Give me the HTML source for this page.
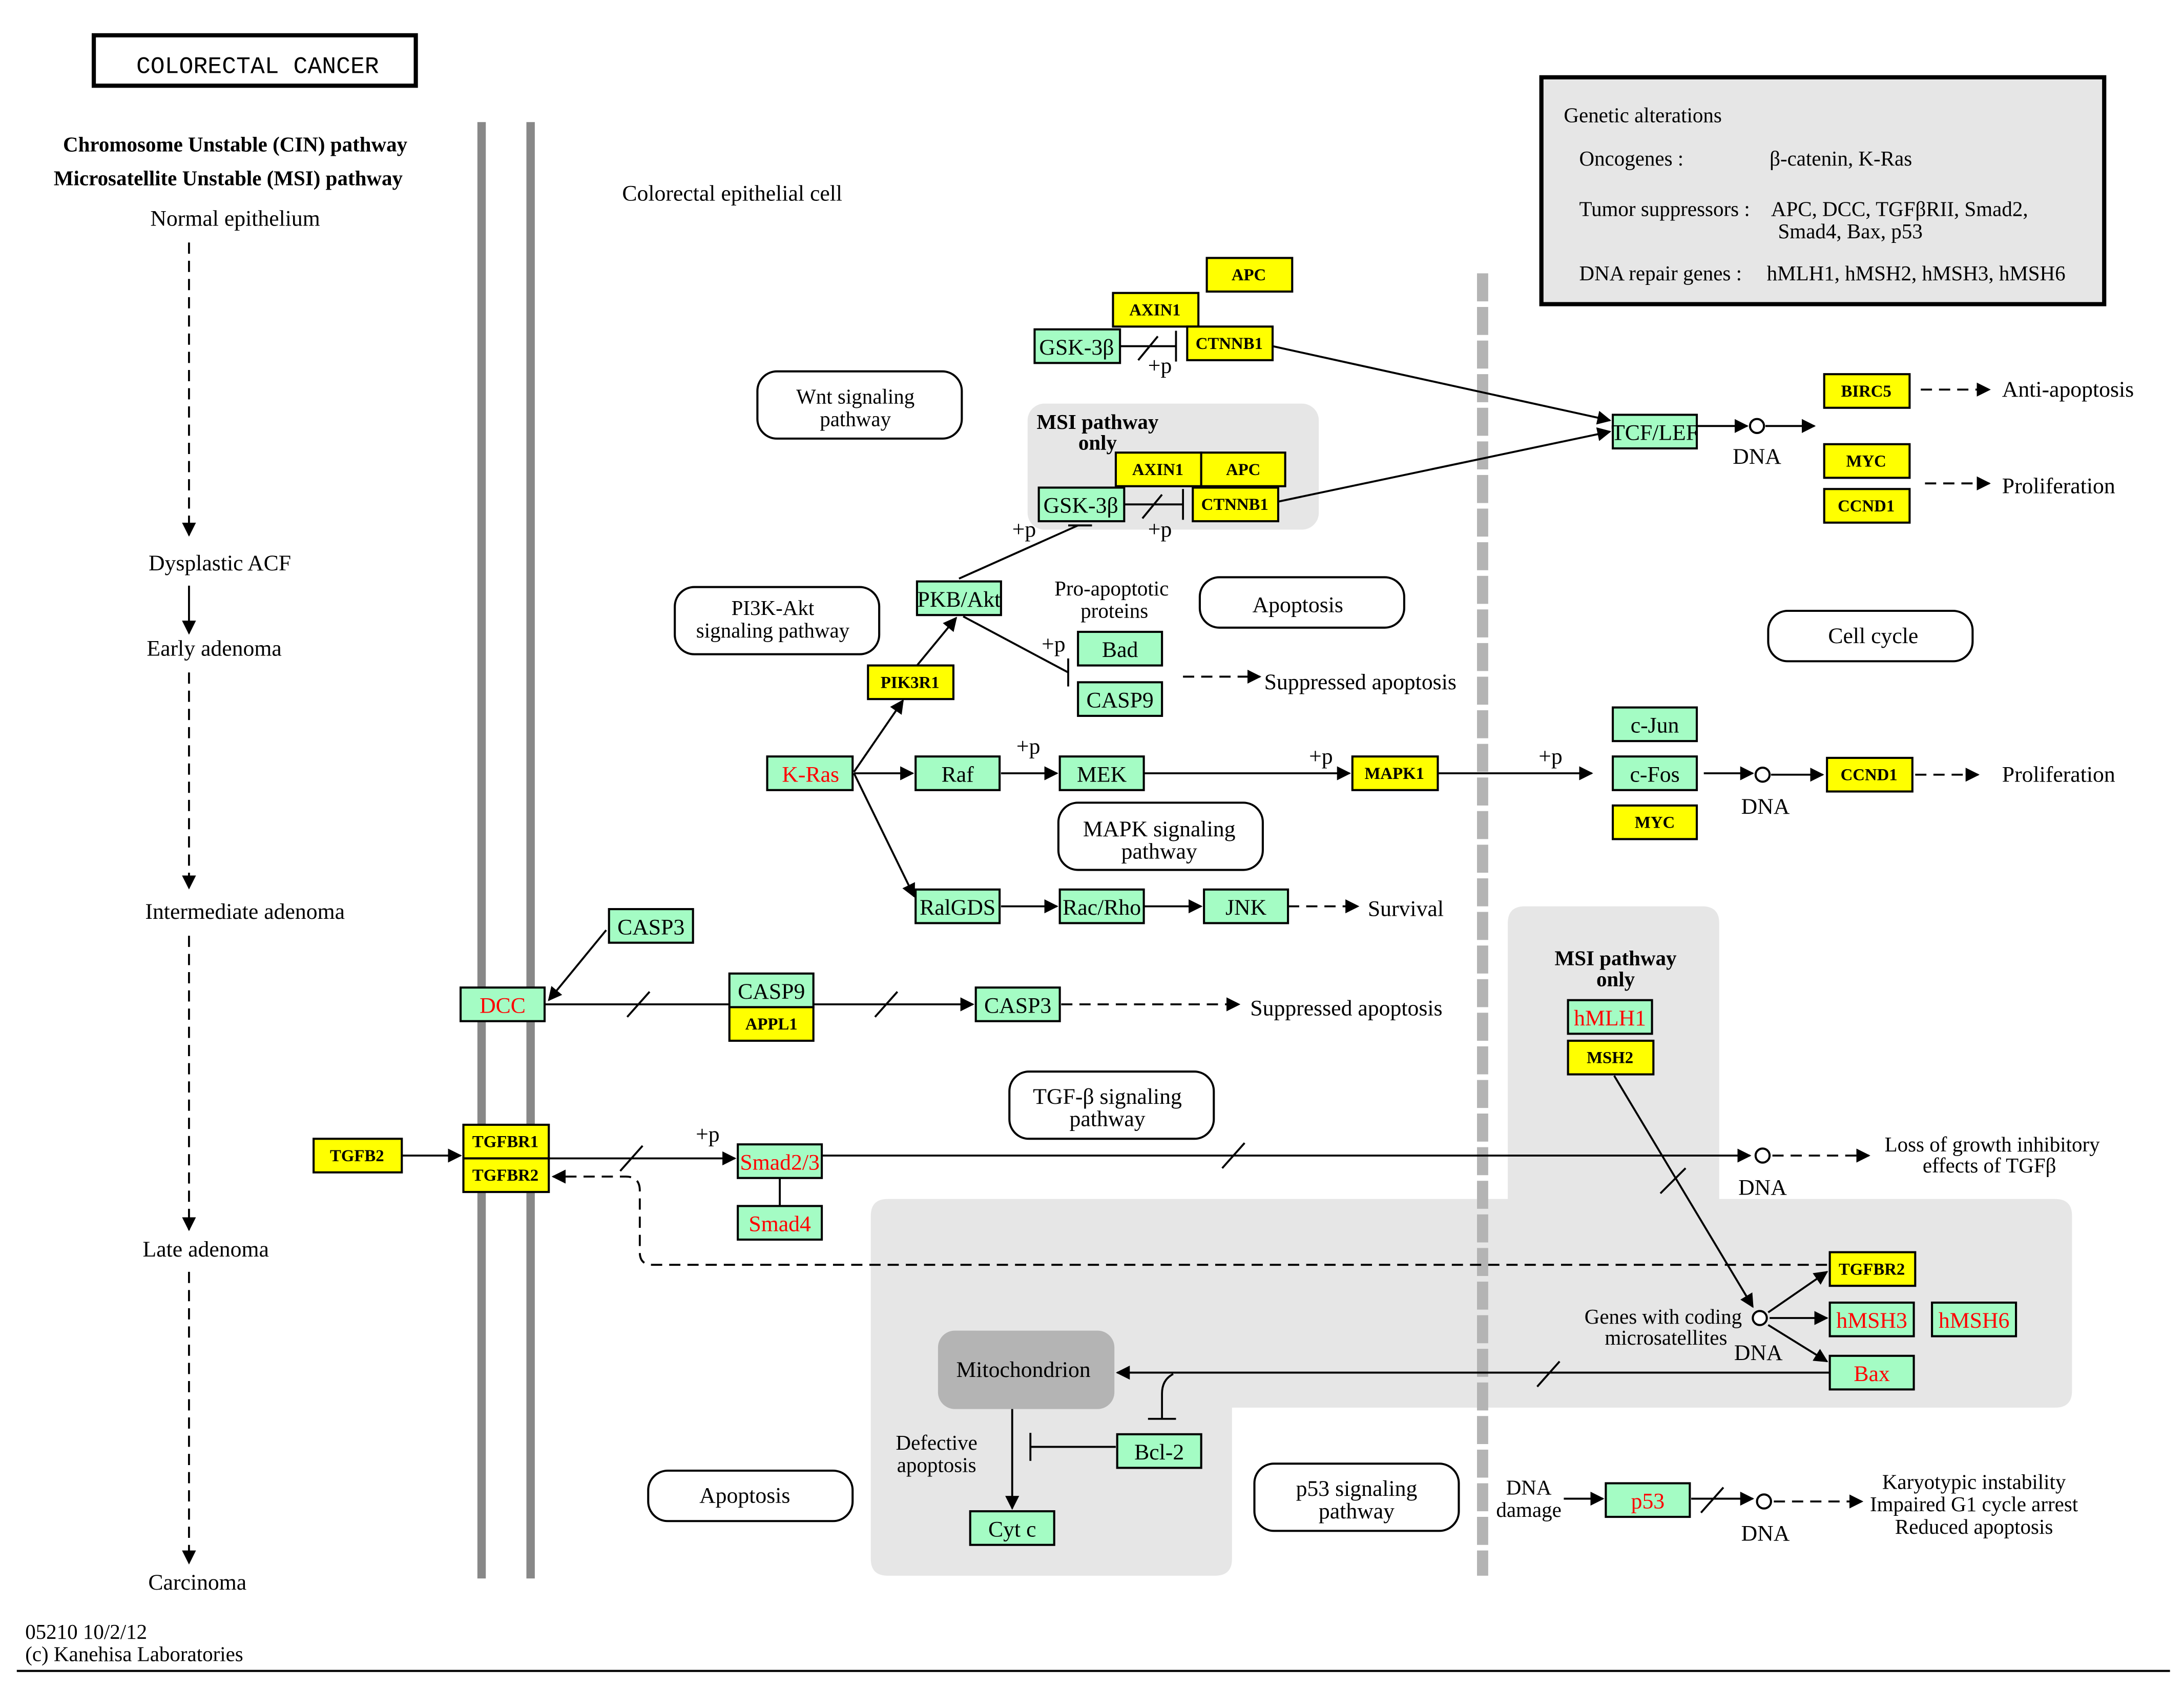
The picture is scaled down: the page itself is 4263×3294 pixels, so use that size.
<!DOCTYPE html>
<html><head><meta charset="utf-8"><style>
html,body{margin:0;padding:0;background:#fff}
svg{display:block}
text{font-family:"Liberation Serif",serif;font-size:16px;fill:#000}
.g{fill:#a4fcc4;stroke:#000;stroke-width:1.5}
.y{fill:#ffff00;stroke:#000;stroke-width:1.5}
.b{font-weight:bold;font-size:12px}
.r{fill:#f00}
.pw{fill:#fff;stroke:#000;stroke-width:1.5}
.l{stroke:#000;stroke-width:1.4;fill:none}
.d{stroke:#000;stroke-width:1.4;fill:none;stroke-dasharray:8,5}
</style></head><body>
<svg width="4263" height="3294" viewBox="0 0 1560 1205" xmlns="http://www.w3.org/2000/svg">
<defs>
<marker id="a" markerWidth="10" markerHeight="10" refX="9" refY="5" orient="auto" markerUnits="userSpaceOnUse"><path d="M0,0 L10,5 L0,10 z" fill="#000"/></marker>
</defs>
<rect width="1560" height="1205" fill="#fff"/>
<!-- gray regions -->
<rect x="734" y="288" width="208" height="90" rx="12" fill="#e6e6e6"/>
<path d="M1089,647 H1216 Q1228,647 1228,659 V856 H1468 Q1480,856 1480,868 V993 Q1480,1005 1468,1005 H880 V1113 Q880,1125 868,1125 H634 Q622,1125 622,1113 V868 Q622,856 634,856 H1077 V659 Q1077,647 1089,647 Z" fill="#e6e6e6"/>
<!-- membranes -->
<line x1="344" y1="87" x2="344" y2="1127" stroke="#888" stroke-width="6"/>
<line x1="379" y1="87" x2="379" y2="1127" stroke="#888" stroke-width="6"/>
<line x1="1059" y1="195" x2="1059" y2="1125" stroke="#b4b4b4" stroke-width="8" stroke-dasharray="20,4"/>
<!-- title -->
<rect x="67" y="25" width="230" height="36" fill="#fff" stroke="#000" stroke-width="3"/>
<text x="184" y="52" text-anchor="middle" font-family="Liberation Mono" style="font-family:'Liberation Mono',monospace;font-size:17px">COLORECTAL CANCER</text>
<text x="168" y="108" text-anchor="middle" font-weight="bold" style="font-size:15px">Chromosome Unstable (CIN) pathway</text>
<text x="163" y="132" text-anchor="middle" font-weight="bold" style="font-size:15px">Microsatellite Unstable (MSI) pathway</text>
<text x="168" y="161" text-anchor="middle">Normal epithelium</text>
<text x="157" y="407" text-anchor="middle">Dysplastic ACF</text>
<text x="153" y="468" text-anchor="middle">Early adenoma</text>
<text x="175" y="656" text-anchor="middle">Intermediate adenoma</text>
<text x="147" y="897" text-anchor="middle">Late adenoma</text>
<text x="141" y="1135" text-anchor="middle">Carcinoma</text>
<line class="d" x1="135" y1="173" x2="135" y2="382" marker-end="url(#a)"/>
<line class="l" x1="135" y1="418" x2="135" y2="452" marker-end="url(#a)"/>
<line class="d" x1="135" y1="480" x2="135" y2="634" marker-end="url(#a)"/>
<line class="d" x1="135" y1="668" x2="135" y2="878" marker-end="url(#a)"/>
<line class="d" x1="135" y1="908" x2="135" y2="1116" marker-end="url(#a)"/>
<text x="18" y="1170" style="font-size:15px">05210 10/2/12</text>
<text x="18" y="1186" style="font-size:15px">(c) Kanehisa Laboratories</text>
<line x1="12" y1="1193" x2="1550" y2="1193" stroke="#000" stroke-width="1.5"/>
<text x="523" y="143" text-anchor="middle">Colorectal epithelial cell</text>
<!-- legend -->
<rect x="1101" y="55" width="402" height="162" fill="#e6e6e6" stroke="#000" stroke-width="3"/>
<text x="1117" y="87" style="font-size:15px">Genetic alterations</text>
<text x="1128" y="118" style="font-size:15px">Oncogenes :</text>
<text x="1264" y="118" style="font-size:15px">β-catenin, K-Ras</text>
<text x="1128" y="154" style="font-size:15px">Tumor suppressors :</text>
<text x="1265" y="154" style="font-size:15px">APC, DCC, TGFβRII, Smad2,</text>
<text x="1270" y="170" style="font-size:15px">Smad4, Bax, p53</text>
<text x="1128" y="200" style="font-size:15px">DNA repair genes :</text>
<text x="1262" y="200" style="font-size:15px">hMLH1, hMSH2, hMSH3, hMSH6</text>
<!-- pathway ovals -->
<rect class="pw" x="541" y="265" width="146" height="48" rx="14"/><text x="611" y="288" text-anchor="middle" style="font-size:15px">Wnt signaling</text><text x="611" y="304" text-anchor="middle" style="font-size:15px">pathway</text>
<rect class="pw" x="482" y="419" width="146" height="48" rx="14"/><text x="552" y="439" text-anchor="middle" style="font-size:15px">PI3K-Akt</text><text x="552" y="455" text-anchor="middle" style="font-size:15px">signaling pathway</text>
<rect class="pw" x="857" y="412" width="146" height="36" rx="14"/><text x="927" y="437" text-anchor="middle">Apoptosis</text>
<rect class="pw" x="1263" y="436" width="146" height="36" rx="14"/><text x="1338" y="459" text-anchor="middle">Cell cycle</text>
<rect class="pw" x="756" y="573" width="146" height="48" rx="14"/><text x="828" y="597" text-anchor="middle">MAPK signaling</text><text x="828" y="613" text-anchor="middle">pathway</text>
<rect class="pw" x="721" y="765" width="146" height="48" rx="14"/><text x="791" y="788" text-anchor="middle">TGF-β signaling</text><text x="791" y="804" text-anchor="middle">pathway</text>
<rect class="pw" x="463" y="1050" width="146" height="36" rx="14"/><text x="532" y="1073" text-anchor="middle">Apoptosis</text>
<rect class="pw" x="896" y="1045" width="146" height="48" rx="14"/><text x="969" y="1068" text-anchor="middle">p53 signaling</text><text x="969" y="1084" text-anchor="middle">pathway</text>
<rect x="670" y="950" width="126" height="56" rx="12" fill="#b4b4b4"/><text x="731" y="983" text-anchor="middle">Mitochondrion</text>
<!-- text labels -->
<text x="784" y="306" text-anchor="middle" font-weight="bold" style="font-size:15px">MSI pathway</text>
<text x="784" y="321" text-anchor="middle" font-weight="bold" style="font-size:15px">only</text>
<text x="1154" y="689" text-anchor="middle" font-weight="bold" style="font-size:15px">MSI pathway</text>
<text x="1154" y="704" text-anchor="middle" font-weight="bold" style="font-size:15px">only</text>
<text x="794" y="425" text-anchor="middle" style="font-size:15px">Pro-apoptotic</text>
<text x="796" y="441" text-anchor="middle" style="font-size:15px">proteins</text>
<text x="903" y="492">Suppressed apoptosis</text>
<text x="893" y="725">Suppressed apoptosis</text>
<text x="1430" y="283">Anti-apoptosis</text>
<text x="1430" y="352">Proliferation</text>
<text x="1430" y="558">Proliferation</text>
<text x="977" y="654">Survival</text>
<text x="1255" y="331" text-anchor="middle">DNA</text>
<text x="1261" y="581" text-anchor="middle">DNA</text>
<text x="1259" y="853" text-anchor="middle">DNA</text>
<text x="1256" y="971" text-anchor="middle">DNA</text>
<text x="1261" y="1100" text-anchor="middle">DNA</text>
<text x="1423" y="822" text-anchor="middle" style="font-size:15px">Loss of growth inhibitory</text>
<text x="1421" y="837" text-anchor="middle" style="font-size:15px">effects of TGFβ</text>
<text x="1188" y="945" text-anchor="middle" style="font-size:15px">Genes with coding</text>
<text x="1190" y="960" text-anchor="middle" style="font-size:15px">microsatellites</text>
<text x="669" y="1035" text-anchor="middle" style="font-size:15px">Defective</text>
<text x="669" y="1051" text-anchor="middle" style="font-size:15px">apoptosis</text>
<text x="1092" y="1067" text-anchor="middle" style="font-size:15px">DNA</text>
<text x="1092" y="1083" text-anchor="middle" style="font-size:15px">damage</text>
<text x="1410" y="1063" text-anchor="middle" style="font-size:15px">Karyotypic instability</text>
<text x="1410" y="1079" text-anchor="middle" style="font-size:15px">Impaired G1 cycle arrest</text>
<text x="1410" y="1095" text-anchor="middle" style="font-size:15px">Reduced apoptosis</text>
<!-- +p labels -->
<g style="font-size:15px">
<text x="820" y="266">+p</text><text x="820" y="383">+p</text><text x="723" y="383">+p</text>
<text x="744" y="465">+p</text><text x="726" y="538">+p</text><text x="935" y="545">+p</text>
<text x="1099" y="545">+p</text><text x="497" y="815">+p</text>
</g>
<!-- edges -->
<g>
<line class="l" x1="800" y1="247" x2="840" y2="247"/><line class="l" x1="840" y1="236" x2="840" y2="258"/><line class="l" x1="813" y1="257" x2="827" y2="240"/>
<line class="l" x1="803" y1="360" x2="845" y2="360"/><line class="l" x1="845" y1="349" x2="845" y2="371"/><line class="l" x1="816" y1="370" x2="830" y2="353"/>
<line class="l" x1="909" y1="247" x2="1150" y2="300" marker-end="url(#a)"/>
<line class="l" x1="913" y1="358" x2="1150" y2="308" marker-end="url(#a)"/>
<line class="l" x1="685" y1="413" x2="770" y2="375"/><line class="l" x1="763" y1="375" x2="780" y2="375"/>
<line class="l" x1="688" y1="440" x2="763" y2="480"/><line class="l" x1="763" y1="470" x2="763" y2="490"/>
<line class="l" x1="655" y1="475" x2="683" y2="441" marker-end="url(#a)"/>
<line class="l" x1="610" y1="551" x2="645" y2="500" marker-end="url(#a)"/>
<line class="l" x1="610" y1="552" x2="652" y2="552" marker-end="url(#a)"/>
<line class="l" x1="610" y1="552" x2="653" y2="640" marker-end="url(#a)"/>
<line class="l" x1="715" y1="552" x2="755" y2="552" marker-end="url(#a)"/>
<line class="l" x1="817" y1="552" x2="964" y2="552" marker-end="url(#a)"/>
<line class="l" x1="1027" y1="552" x2="1137" y2="552" marker-end="url(#a)"/>
<line class="l" x1="1217" y1="552" x2="1252" y2="552" marker-end="url(#a)"/>
<line class="l" x1="1265" y1="553" x2="1302" y2="553" marker-end="url(#a)"/>
<line class="d" x1="1368" y1="553" x2="1413" y2="553" marker-end="url(#a)"/>
<line class="l" x1="1212" y1="304" x2="1248" y2="304" marker-end="url(#a)"/>
<line class="l" x1="1261" y1="304" x2="1296" y2="304" marker-end="url(#a)"/>
<line class="d" x1="1372" y1="278" x2="1421" y2="278" marker-end="url(#a)"/>
<line class="d" x1="1375" y1="345" x2="1421" y2="345" marker-end="url(#a)"/>
<line class="d" x1="845" y1="483" x2="900" y2="483" marker-end="url(#a)"/>
<line class="l" x1="715" y1="647" x2="755" y2="647" marker-end="url(#a)"/>
<line class="l" x1="817" y1="647" x2="858" y2="647" marker-end="url(#a)"/>
<line class="d" x1="920" y1="647" x2="970" y2="647" marker-end="url(#a)"/>
<line class="l" x1="433" y1="664" x2="392" y2="714" marker-end="url(#a)"/>
<line class="l" x1="389" y1="717" x2="695" y2="717" marker-end="url(#a)"/>
<line class="l" x1="448" y1="726" x2="464" y2="708"/><line class="l" x1="625" y1="726" x2="641" y2="708"/>
<line class="d" x1="758" y1="717" x2="885" y2="717" marker-end="url(#a)"/>
<line class="l" x1="287" y1="825" x2="329" y2="825" marker-end="url(#a)"/>
<line class="l" x1="392" y1="827" x2="525" y2="827" marker-end="url(#a)"/>
<line class="l" x1="443" y1="836" x2="459" y2="818"/>
<line class="l" x1="587" y1="825" x2="1250" y2="825" marker-end="url(#a)"/>
<line class="l" x1="873" y1="834" x2="889" y2="816"/>
<line class="d" x1="1266" y1="825" x2="1335" y2="825" marker-end="url(#a)"/>
<line class="l" x1="557" y1="841" x2="557" y2="861"/>
<path class="d" d="M1305,903 H466 Q457,903 457,894 V850 Q457,840 447,840 H395" marker-end="url(#a)"/>
<line class="l" x1="1153" y1="768" x2="1252" y2="933" marker-end="url(#a)"/>
<line class="l" x1="1186" y1="852" x2="1204" y2="834"/>
<line class="l" x1="1263" y1="937" x2="1305" y2="908" marker-end="url(#a)"/>
<line class="l" x1="1264" y1="941" x2="1305" y2="941" marker-end="url(#a)"/>
<line class="l" x1="1263" y1="946" x2="1305" y2="972" marker-end="url(#a)"/>
<line class="l" x1="1307" y1="980" x2="798" y2="980" marker-end="url(#a)"/>
<line class="l" x1="1098" y1="990" x2="1114" y2="972"/>
<path class="l" d="M838,981 Q830,985 830,995 V1013"/><line class="l" x1="820" y1="1013" x2="840" y2="1013"/>
<line class="l" x1="797" y1="1033" x2="736" y2="1033"/><line class="l" x1="736" y1="1023" x2="736" y2="1043"/>
<line class="l" x1="723" y1="1006" x2="723" y2="1077" marker-end="url(#a)"/>
<line class="l" x1="1117" y1="1070" x2="1145" y2="1070" marker-end="url(#a)"/>
<line class="l" x1="1208" y1="1070" x2="1252" y2="1070" marker-end="url(#a)"/>
<line class="l" x1="1215" y1="1080" x2="1231" y2="1062"/>
<line class="d" x1="1267" y1="1072" x2="1330" y2="1072" marker-end="url(#a)"/>
</g>
<g fill="#fff" stroke="#000" stroke-width="1.5">
<circle cx="1255" cy="304" r="5"/><circle cx="1259" cy="553" r="5"/><circle cx="1259" cy="825" r="5"/><circle cx="1257" cy="941" r="5"/><circle cx="1260" cy="1072" r="5"/>
</g>
<!-- yellow boxes -->
<g>
<rect class="y" x="862" y="184" width="61" height="24"/><text class="b" x="892" y="200" text-anchor="middle">APC</text>
<rect class="y" x="795" y="209" width="61" height="24"/><text class="b" x="825" y="225" text-anchor="middle">AXIN1</text>
<rect class="y" x="848" y="233" width="61" height="24"/><text class="b" x="878" y="249" text-anchor="middle">CTNNB1</text>
<rect class="y" x="797" y="323" width="61" height="24"/><text class="b" x="827" y="339" text-anchor="middle">AXIN1</text>
<rect class="y" x="858" y="323" width="60" height="24"/><text class="b" x="888" y="339" text-anchor="middle">APC</text>
<rect class="y" x="852" y="348" width="61" height="24"/><text class="b" x="882" y="364" text-anchor="middle">CTNNB1</text>
<rect class="y" x="1303" y="267" width="61" height="24"/><text class="b" x="1333" y="283" text-anchor="middle">BIRC5</text>
<rect class="y" x="1303" y="317" width="61" height="24"/><text class="b" x="1333" y="333" text-anchor="middle">MYC</text>
<rect class="y" x="1303" y="349" width="61" height="24"/><text class="b" x="1333" y="365" text-anchor="middle">CCND1</text>
<rect class="y" x="620" y="475" width="61" height="24"/><text class="b" x="650" y="491" text-anchor="middle">PIK3R1</text>
<rect class="y" x="966" y="540" width="61" height="24"/><text class="b" x="996" y="556" text-anchor="middle">MAPK1</text>
<rect class="y" x="1152" y="575" width="60" height="24"/><text class="b" x="1182" y="591" text-anchor="middle">MYC</text>
<rect class="y" x="1305" y="541" width="61" height="24"/><text class="b" x="1335" y="557" text-anchor="middle">CCND1</text>
<rect class="y" x="521" y="719" width="60" height="24"/><text class="b" x="551" y="735" text-anchor="middle">APPL1</text>
<rect class="y" x="1120" y="743" width="61" height="24"/><text class="b" x="1150" y="759" text-anchor="middle">MSH2</text>
<rect class="y" x="224" y="813" width="63" height="24"/><text class="b" x="255" y="829" text-anchor="middle">TGFB2</text>
<rect class="y" x="331" y="803" width="61" height="24"/><text class="b" x="361" y="819" text-anchor="middle">TGFBR1</text>
<rect class="y" x="331" y="827" width="61" height="24"/><text class="b" x="361" y="843" text-anchor="middle">TGFBR2</text>
<rect class="y" x="1307" y="894" width="61" height="24"/><text class="b" x="1337" y="910" text-anchor="middle">TGFBR2</text>
</g>
<!-- green boxes -->
<g>
<rect class="g" x="739" y="235" width="61" height="24"/><text x="769" y="253" text-anchor="middle">GSK-3β</text>
<rect class="g" x="742" y="348" width="61" height="24"/><text x="772" y="366" text-anchor="middle">GSK-3β</text>
<rect class="g" x="1152" y="296" width="60" height="24"/><text x="1182" y="314" text-anchor="middle">TCF/LEF</text>
<rect class="g" x="655" y="415" width="60" height="24"/><text x="685" y="433" text-anchor="middle">PKB/Akt</text>
<rect class="g" x="770" y="451" width="60" height="24"/><text x="800" y="469" text-anchor="middle">Bad</text>
<rect class="g" x="770" y="487" width="60" height="24"/><text x="800" y="505" text-anchor="middle">CASP9</text>
<rect class="g" x="548" y="540" width="61" height="24"/><text class="r" x="579" y="558" text-anchor="middle">K-Ras</text>
<rect class="g" x="654" y="540" width="60" height="24"/><text x="684" y="558" text-anchor="middle">Raf</text>
<rect class="g" x="757" y="540" width="60" height="24"/><text x="787" y="558" text-anchor="middle">MEK</text>
<rect class="g" x="1152" y="505" width="60" height="24"/><text x="1182" y="523" text-anchor="middle">c-Jun</text>
<rect class="g" x="1152" y="540" width="60" height="24"/><text x="1182" y="558" text-anchor="middle">c-Fos</text>
<rect class="g" x="654" y="635" width="60" height="24"/><text x="684" y="653" text-anchor="middle">RalGDS</text>
<rect class="g" x="757" y="635" width="60" height="24"/><text x="787" y="653" text-anchor="middle">Rac/Rho</text>
<rect class="g" x="860" y="635" width="60" height="24"/><text x="890" y="653" text-anchor="middle">JNK</text>
<rect class="g" x="435" y="649" width="60" height="24"/><text x="465" y="667" text-anchor="middle">CASP3</text>
<rect class="g" x="329" y="705" width="60" height="24"/><text class="r" x="359" y="723" text-anchor="middle">DCC</text>
<rect class="g" x="521" y="695" width="60" height="24"/><text x="551" y="713" text-anchor="middle">CASP9</text>
<rect class="g" x="697" y="705" width="60" height="24"/><text x="727" y="723" text-anchor="middle">CASP3</text>
<rect class="g" x="1120" y="714" width="60" height="24"/><text class="r" x="1150" y="732" text-anchor="middle">hMLH1</text>
<rect class="g" x="527" y="817" width="60" height="24"/><text class="r" x="557" y="835" text-anchor="middle">Smad2/3</text>
<rect class="g" x="527" y="861" width="60" height="24"/><text class="r" x="557" y="879" text-anchor="middle">Smad4</text>
<rect class="g" x="1307" y="930" width="60" height="24"/><text class="r" x="1337" y="948" text-anchor="middle">hMSH3</text>
<rect class="g" x="1380" y="930" width="60" height="24"/><text class="r" x="1410" y="948" text-anchor="middle">hMSH6</text>
<rect class="g" x="1307" y="968" width="60" height="24"/><text class="r" x="1337" y="986" text-anchor="middle">Bax</text>
<rect class="g" x="798" y="1024" width="60" height="24"/><text x="828" y="1042" text-anchor="middle">Bcl-2</text>
<rect class="g" x="693" y="1079" width="60" height="24"/><text x="723" y="1097" text-anchor="middle">Cyt c</text>
<rect class="g" x="1147" y="1059" width="60" height="24"/><text class="r" x="1177" y="1077" text-anchor="middle">p53</text>
</g>
</svg>
</body></html>
